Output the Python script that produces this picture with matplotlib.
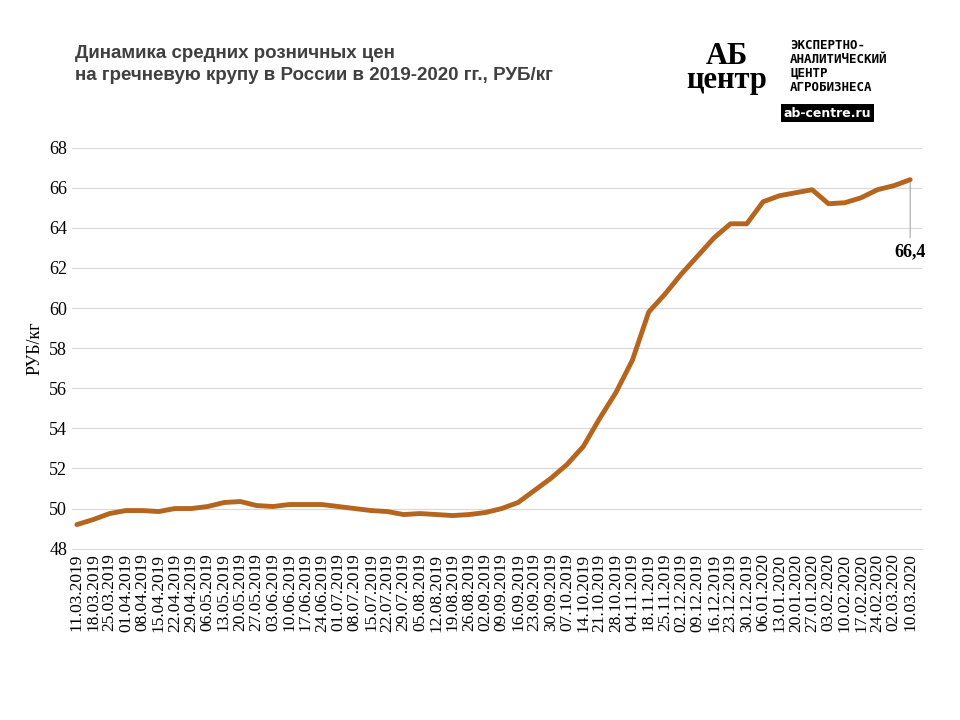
import matplotlib
matplotlib.use("Agg")
import matplotlib.pyplot as plt

dates = ["11.03.2019","18.03.2019","25.03.2019","01.04.2019","08.04.2019","15.04.2019","22.04.2019","29.04.2019",
"06.05.2019","13.05.2019","20.05.2019","27.05.2019","03.06.2019","10.06.2019","17.06.2019","24.06.2019",
"01.07.2019","08.07.2019","15.07.2019","22.07.2019","29.07.2019","05.08.2019","12.08.2019","19.08.2019",
"26.08.2019","02.09.2019","09.09.2019","16.09.2019","23.09.2019","30.09.2019","07.10.2019","14.10.2019",
"21.10.2019","28.10.2019","04.11.2019","18.11.2019","25.11.2019","02.12.2019","09.12.2019","16.12.2019",
"23.12.2019","30.12.2019","06.01.2020","13.01.2020","20.01.2020","27.01.2020","03.02.2020","10.02.2020",
"17.02.2020","24.02.2020","02.03.2020","10.03.2020"]
prices = [49.2,49.45,49.75,49.9,49.9,49.85,50.0,50.0,50.1,50.3,50.35,50.15,50.1,50.2,50.2,50.2,
50.1,50.0,49.9,49.85,49.7,49.75,49.7,49.65,49.7,49.8,50.0,50.3,50.9,51.5,52.2,53.1,
54.5,55.8,57.4,59.8,60.7,61.7,62.6,63.5,64.2,64.2,65.3,65.6,65.75,65.9,65.2,65.25,
65.5,65.9,66.1,66.4]
yticks = list(range(48, 70, 2))

fig = plt.figure(figsize=(9.6, 7.2), dpi=100)
ax = fig.add_axes([0.075, 0.238, 0.885, 0.557])
x = list(range(len(dates)))
ax.plot(x, prices, color="#B5651D", lw=3.5, solid_capstyle="round")
ax.set_ylim(48, 68)
ax.set_xlim(-0.3, len(dates) - 0.3)
ax.set_yticks(yticks)
ax.set_yticklabels([str(v) for v in yticks], fontfamily="Liberation Serif", fontsize=13)
ax.set_xticks(x)
ax.set_xticklabels(dates, rotation=90, fontfamily="Liberation Serif", fontsize=12.5)
ax.grid(axis="y", color="#d9d9d9", lw=0.8)
for s in ["top", "right", "left"]:
    ax.spines[s].set_visible(False)
ax.spines["bottom"].set_color("#d9d9d9")
ax.tick_params(length=0)
ax.set_ylabel("РУБ/кг", fontfamily="Liberation Serif", fontsize=13)
ax.annotate("66,4", xy=(x[-1], prices[-1]), xytext=(x[-1], 62.8),
            ha="center", va="center", fontfamily="Liberation Serif", fontsize=13, fontweight="bold",
            arrowprops=dict(arrowstyle="-", color="#a6a6a6", lw=0.8))

fig.text(0.078, 0.91, "Динамика средних розничных цен\nна гречневую крупу в России в 2019-2020 гг., РУБ/кг",
         fontsize=13.5, fontweight="bold", fontfamily="Liberation Sans", color="#404040", va="center", linespacing=1.4)
fig.text(0.757, 0.905, "АБ\nцентр", fontsize=22, fontweight="bold", fontfamily="Liberation Serif",
         ha="center", va="center", linespacing=0.75)
fig.text(0.823, 0.908, "ЭКСПЕРТНО-\nАНАЛИТИЧЕСКИЙ\nЦЕНТР\nАГРОБИЗНЕСА", fontsize=9, fontweight="bold",
         fontfamily="DejaVu Sans Mono", va="center", linespacing=1.1)
fig.text(0.862, 0.843, "ab-centre.ru", fontsize=9, fontweight="bold", color="white", ha="center", va="center",
         bbox=dict(facecolor="black", edgecolor="none", pad=2))
fig.savefig("out.png", dpi=100)
